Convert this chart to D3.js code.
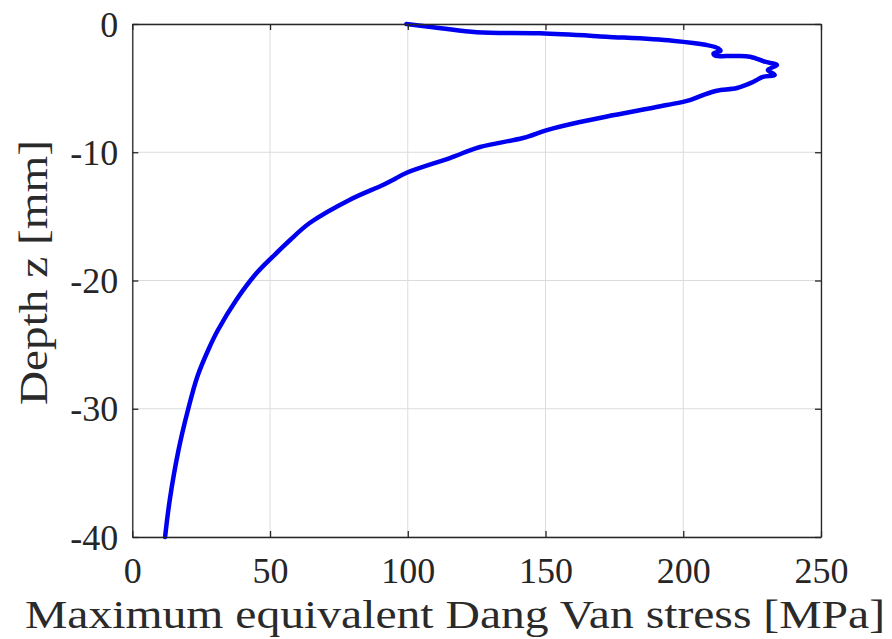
<!DOCTYPE html>
<html><head><meta charset="utf-8">
<script src="https://cdn.jsdelivr.net/npm/d3@7"></script>
<style>body{margin:0;background:#fff}</style>
</head><body>
<svg id="c" width="892" height="639"></svg>
<script>
const stress = [99.5,112,125,148,172,196,208.5,212.7,213.5,211,211.5,218,224.2,229.6,234,230.7,233.2,228.9,225.3,219.5,212.2,207.2,202.4,194,186,175,162.5,150.5,141.8,126.2,115.3,99.6,94.6,91,79,64.5,57.3,53.6,45.2,37.8,31,27.6,23.6,20.2,16.8,13.6,11.9];
const depth  = [0,-0.33,-0.65,-0.73,-0.99,-1.3,-1.64,-1.9,-2.1,-2.3,-2.45,-2.5,-2.55,-2.94,-3.2,-3.59,-3.98,-4.13,-4.52,-4.99,-5.2,-5.54,-5.93,-6.32,-6.65,-7.1,-7.64,-8.27,-8.89,-9.59,-10.45,-11.6,-12.16,-12.55,-13.7,-15.5,-16.84,-17.6,-19.4,-21.5,-23.9,-25.4,-27.5,-30.1,-33.2,-37.1,-40];
const xTicks = [0,50,100,150,200,250];
const yTicks = [0,-10,-20,-30,-40];
const xLabel = "Maximum equivalent Dang Van stress [MPa]";
const yLabel = "Depth z [mm]";

const svg = d3.select("#c");
const L=132.3, R=821, T=24, B=537;
const x = d3.scaleLinear().domain([0,250]).range([L,R]);
const y = d3.scaleLinear().domain([-40,0]).range([B,T]);
const font = "'Liberation Serif','DejaVu Serif',serif";
const axc = "#262626";

// grid
svg.append("g").selectAll("line").data(xTicks).join("line")
  .attr("x1",d=>x(d)).attr("x2",d=>x(d)).attr("y1",T).attr("y2",B)
  .attr("stroke","#dcdcdc").attr("stroke-width",1);
svg.append("g").selectAll("line").data(yTicks).join("line")
  .attr("y1",d=>y(d)).attr("y2",d=>y(d)).attr("x1",L).attr("x2",R)
  .attr("stroke","#dcdcdc").attr("stroke-width",1);

// curve
const pts = stress.map((s,i)=>[s,depth[i]]);
svg.append("path").datum(pts)
  .attr("fill","none").attr("stroke","#0000f0").attr("stroke-width",4.5)
  .attr("stroke-linejoin","round").attr("stroke-linecap","round")
  .attr("d", d3.line().x(d=>x(d[0])).y(d=>y(d[1])).curve(d3.curveCatmullRom.alpha(0.5)));

// axes
const tk = 6;
const fmt = d=>String(d);
const ax = svg.append("g").attr("class","axes");
const gb = ax.append("g").attr("transform",`translate(0,${B})`)
  .call(d3.axisBottom(x).tickValues(xTicks).tickFormat(fmt).tickSizeInner(-tk).tickSizeOuter(0).tickPadding(0));
gb.selectAll("text").attr("dy",null).attr("y",46);
ax.append("g").attr("transform",`translate(0,${T})`)
  .call(d3.axisTop(x).tickValues(xTicks).tickSizeInner(-tk).tickSizeOuter(0).tickFormat(""));
const gl = ax.append("g").attr("transform",`translate(${L},0)`)
  .call(d3.axisLeft(y).tickValues(yTicks).tickFormat(fmt).tickSizeInner(-tk).tickSizeOuter(0).tickPadding(14));
gl.selectAll("text").attr("dy",null).attr("y",12);
ax.append("g").attr("transform",`translate(${R},0)`)
  .call(d3.axisRight(y).tickValues(yTicks).tickSizeInner(-tk).tickSizeOuter(0).tickFormat(""));
ax.selectAll(".domain").attr("stroke",axc).attr("stroke-width",1.3);
ax.selectAll(".tick line").attr("stroke",axc).attr("stroke-width",1.3);
ax.selectAll("text").attr("font-family",font).attr("font-size",36).attr("fill","#262626");

svg.append("text").attr("x",25).attr("y",628)
  .attr("font-family",font).attr("font-size",40).attr("fill","#2a2a2a")
  .attr("textLength",860).attr("lengthAdjust","spacingAndGlyphs")
  .text(xLabel);
svg.append("text").attr("transform",`translate(47,405) rotate(-90)`)
  .attr("font-family",font).attr("font-size",40).attr("fill","#2a2a2a")
  .attr("textLength",265).attr("lengthAdjust","spacingAndGlyphs")
  .text(yLabel);
</script>
</body></html>
